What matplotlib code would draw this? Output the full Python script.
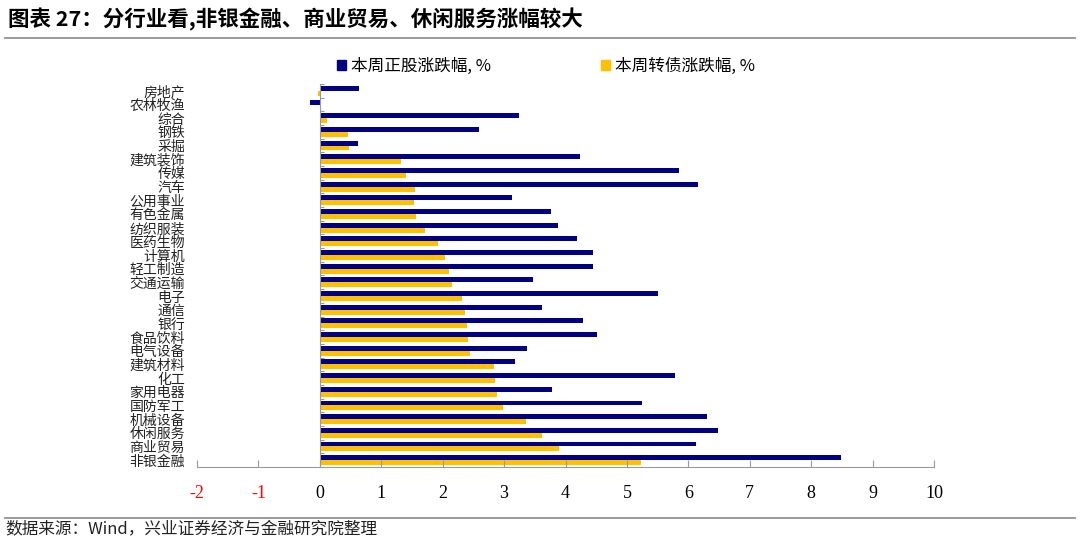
import numpy as np
import matplotlib
matplotlib.use("Agg")
import matplotlib.pyplot as plt
from matplotlib.patches import Patch
from matplotlib.lines import Line2D

plt.rcParams["font.family"] = ["Noto Sans CJK SC", "DejaVu Sans"]

# ── Data ──────────────────────────────────────────────────────────────────
industries = ["房地产", "农林牧渔", "综合", "钢铁", "采掘", "建筑装饰", "传媒", "汽车",
              "公用事业", "有色金属", "纺织服装", "医药生物", "计算机", "轻工制造",
              "交通运输", "电子", "通信", "银行", "食品饮料", "电气设备", "建筑材料",
              "化工", "家用电器", "国防军工", "机械设备", "休闲服务", "商业贸易", "非银金融"]
stock_chg = [0.64, -0.16, 3.24, 2.59, 0.62, 4.24, 5.85, 6.16,
             3.13, 3.76, 3.87, 4.18, 4.45, 4.45,
             3.47, 5.50, 3.62, 4.28, 4.52, 3.37, 3.17,
             5.79, 3.78, 5.24, 6.30, 6.48, 6.12, 8.48]
cb_chg = [-0.03, 0.0, 0.12, 0.46, 0.48, 1.32, 1.41, 1.55,
          1.54, 1.57, 1.71, 1.93, 2.04, 2.10,
          2.16, 2.31, 2.37, 2.39, 2.41, 2.45, 2.84,
          2.85, 2.88, 2.98, 3.35, 3.62, 3.90, 5.23]
series_names = ["本周正股涨跌幅, %", "本周转债涨跌幅, %"]
xticks = list(range(-2, 11))

BLUE = "#000080"
GOLD = "#FFC000"
GRAY = "#9a9a9a"

# ── Chart ─────────────────────────────────────────────────────────────────
fig = plt.figure(figsize=(10.8, 5.46), dpi=100)
ax = fig.add_axes([197 / 1080, 1 - 467 / 546, (934 - 197) / 1080, (467 - 84) / 546])

y = np.arange(len(industries))
h = 0.36
ax.barh(y - h / 2, stock_chg, height=h, color=BLUE)
ax.barh(y + h / 2, cb_chg, height=h, color=GOLD)

ax.set_xlim(-2, 10)
ax.set_ylim(27.3, -0.5)

# y axis sits at zero, labels pushed out to the left edge
for s in ["top", "right"]:
    ax.spines[s].set_visible(False)
ax.spines["left"].set_position(("data", 0))
ax.spines["left"].set_color(GRAY)
ax.spines["bottom"].set_color(GRAY)
ax.set_yticks(y)
ax.set_yticklabels(industries, fontsize=10, color="#222222")
ax.tick_params(axis="y", which="major", length=0, pad=97)
ax.set_yticks(np.arange(-0.5, len(industries), 1.0), minor=True)
ax.tick_params(axis="y", which="minor", length=3, direction="in", color=GRAY, width=0.8)

ax.set_xticks(xticks)
ax.set_xticklabels([str(t) for t in xticks], family=["Liberation Serif"], fontsize=13)
ax.tick_params(axis="x", length=5, direction="in", color=GRAY, width=0.8, pad=13)
for lbl, t in zip(ax.get_xticklabels(), xticks):
    lbl.set_color("red" if t < 0 else "black")

# legend
handles = [Patch(color=BLUE), Patch(color=GOLD)]
fig.legend(handles, series_names, loc="center left", bbox_to_anchor=(0.298, 0.879),
           ncol=2, frameon=False, fontsize=12, handlelength=0.55, handleheight=0.55,
           handletextpad=0.3, columnspacing=6.6)

# title, rules and source
fig.text(0.007, 0.965, "图表 27：分行业看,非银金融、商业贸易、休闲服务涨幅较大",
         fontsize=15.5, fontweight="bold", va="center", ha="left")
fig.add_artist(Line2D([0.005, 0.995], [1 - 38 / 546] * 2, color="#888888", lw=1.2))
fig.add_artist(Line2D([0.005, 0.995], [1 - 518 / 546] * 2, color="#888888", lw=1.2))
fig.text(0.005, 1 - 529 / 546, "数据来源：Wind，兴业证券经济与金融研究院整理",
         fontsize=12, va="center", ha="left", color="#222222")

fig.savefig("out.png", dpi=100)
